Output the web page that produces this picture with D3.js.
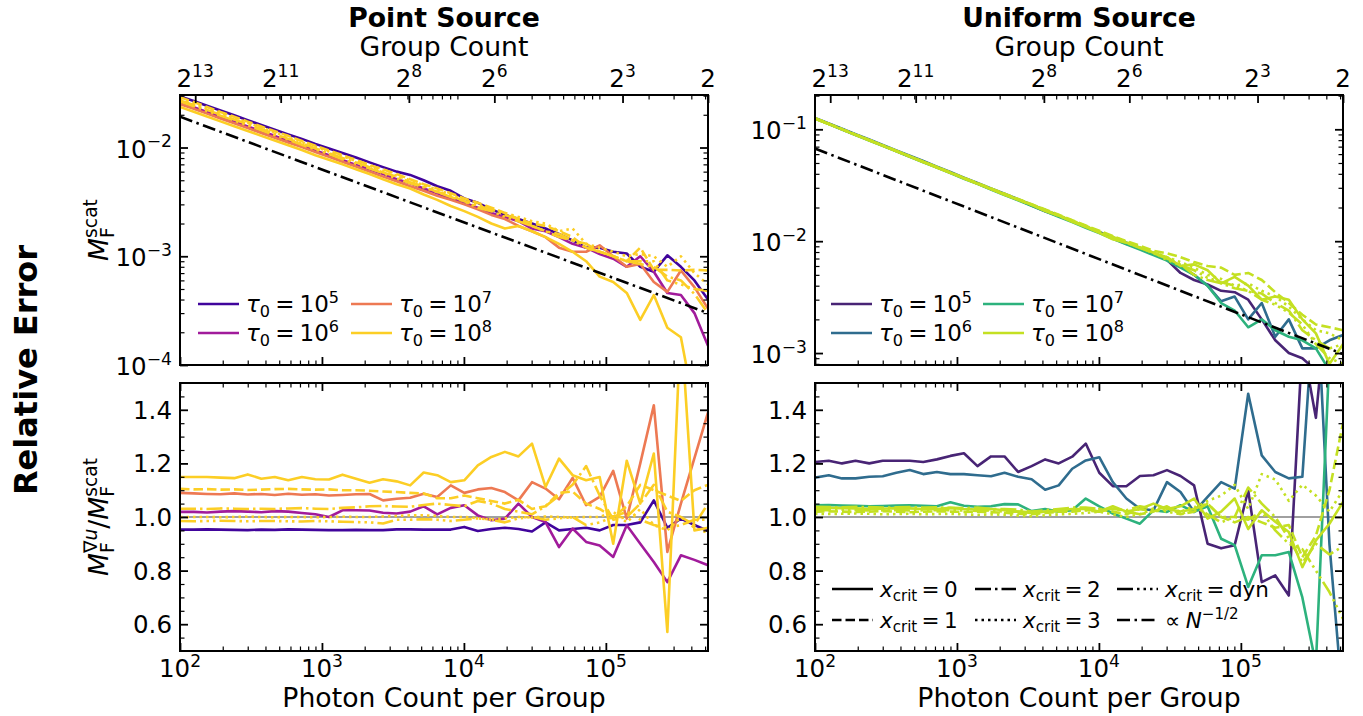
<!DOCTYPE html>
<html>
<head>
<meta charset="utf-8">
<script src="https://cdn.jsdelivr.net/npm/d3@7"></script>
<style>
  html, body { margin: 0; padding: 0; background: #fff; }
  svg { display: block; font-family: 'DejaVu Sans', sans-serif; }
</style>
</head>
<body>
<svg id="fig" width="1363" height="716"></svg>
<script>
// ── Data ────────────────────────────────────────────────────────────────────
const totalPhotons = 1048576;           // 2^20, so group count = total / N
const xDomain = [100, 524288];
const photonCount = [100, 125, 155, 193, 241, 300, 374, 465, 579, 722,
  899, 1120, 1395, 1737, 2164, 2695, 3357, 4181, 5208, 6486,
  8079, 10063, 12534, 15612, 19446, 24222, 30170, 37579, 46807, 58300,
  72616, 90448, 112660, 140323, 174780, 217700, 271157, 337740, 420675, 524288];

const xMajorTicks = [1e2, 1e3, 1e4, 1e5];
const groupTicks = [8192, 2048, 256, 64, 8, 2];
const groupExp = [13, 11, 8, 6, 3, 1];
const tauExp = ['5', '6', '7', '8'];
const xcritLabels = ['0', '1', '2', '3', 'dyn'];

// Point source, M_F^scat
const ptScatT5 = [0.0295, 0.0268, 0.0242, 0.0219, 0.0198, 0.0178, 0.0161, 0.0146, 0.0132, 0.0120,
  0.0108, 0.0098, 0.0089, 0.0081, 0.0073, 0.0066, 0.0060, 0.0056, 0.0050, 0.0044,
  0.0040, 0.0034, 0.0031, 0.0027, 0.0024, 0.0022, 0.0020, 0.0018, 0.0016, 0.0014,
  0.0012, 0.0012, 0.0011, 0.00106, 0.0008, 0.00072, 0.00102, 0.0008, 0.0006, 0.0004];
const ptScatT6 = [0.0260, 0.0235, 0.0212, 0.0191, 0.0173, 0.0156, 0.0141, 0.0128, 0.0115, 0.0104,
  0.0094, 0.0085, 0.0077, 0.0069, 0.0063, 0.0057, 0.0051, 0.0047, 0.0042, 0.0038,
  0.0034, 0.0031, 0.0028, 0.0025, 0.0023, 0.0021, 0.0018, 0.0017, 0.0015, 0.0013,
  0.0012, 0.00105, 0.00095, 0.0008, 0.0010, 0.00072, 0.00046, 0.00044, 0.0003, 0.00015];
const ptScatT7 = [0.0251, 0.0227, 0.0205, 0.0185, 0.0167, 0.0151, 0.0136, 0.0123, 0.0111, 0.0101,
  0.0091, 0.0082, 0.0074, 0.0067, 0.0060, 0.0054, 0.0049, 0.0044, 0.0040, 0.0036,
  0.0033, 0.0030, 0.0027, 0.0024, 0.0022, 0.0019, 0.0017, 0.0015, 0.0012, 0.0011,
  0.0011, 0.00126, 0.0010, 0.0008, 0.00085, 0.00058, 0.00047, 0.00074, 0.00052, 0.00033];
const ptScatT8x0 = [0.0236, 0.0213, 0.0193, 0.0174, 0.0157, 0.0142, 0.0128, 0.0116, 0.0105, 0.0095,
  0.0085, 0.0077, 0.0070, 0.0063, 0.0057, 0.0051, 0.0046, 0.0042, 0.0037, 0.0033,
  0.0029, 0.0026, 0.0023, 0.0020, 0.0018, 0.0019, 0.0017, 0.0015, 0.0013, 0.0011,
  0.0009, 0.00065, 0.00058, 0.00046, 0.00026, 0.00044, 0.00022, 0.00018, 0.00004, 0.00003];
const ptScatT8x1 = [0.0290, 0.0262, 0.0236, 0.0212, 0.0192, 0.0173, 0.0156, 0.0141, 0.0128, 0.0115,
  0.0104, 0.0094, 0.0085, 0.0077, 0.0069, 0.0063, 0.0057, 0.0051, 0.0046, 0.0042,
  0.0038, 0.0034, 0.0031, 0.0028, 0.0025, 0.0022, 0.0020, 0.0019, 0.0017, 0.0015,
  0.0012, 0.0011, 0.0010, 0.0009, 0.0012, 0.00075, 0.00075, 0.00074, 0.00075, 0.00074];
const ptScatT8x2 = [0.0271, 0.0246, 0.0222, 0.0200, 0.0181, 0.0164, 0.0148, 0.0133, 0.0120, 0.0109,
  0.0098, 0.0089, 0.0080, 0.0073, 0.0066, 0.0059, 0.0054, 0.0048, 0.0044, 0.0039,
  0.0036, 0.0032, 0.0029, 0.0027, 0.0024, 0.0022, 0.0019, 0.0017, 0.0016, 0.0014,
  0.0013, 0.0011, 0.0010, 0.0009, 0.00085, 0.0008, 0.00065, 0.0006, 0.00045, 0.0003];
const ptScatT8x3 = [0.0280, 0.0254, 0.0229, 0.0207, 0.0187, 0.0169, 0.0152, 0.0138, 0.0124, 0.0112,
  0.0101, 0.0092, 0.0083, 0.0075, 0.0068, 0.0061, 0.0055, 0.0050, 0.0045, 0.0041,
  0.0037, 0.0033, 0.0030, 0.0027, 0.0025, 0.0023, 0.0021, 0.0020, 0.0017, 0.0018,
  0.0013, 0.0012, 0.0011, 0.0010, 0.00105, 0.0010, 0.0008, 0.0010, 0.0007, 0.00055];
const ptScatT8dyn = [0.0266, 0.0240, 0.0217, 0.0196, 0.0177, 0.0160, 0.0144, 0.0130, 0.0118, 0.0106,
  0.0096, 0.0087, 0.0078, 0.0071, 0.0064, 0.0058, 0.0052, 0.0047, 0.0043, 0.0039,
  0.0035, 0.0032, 0.0028, 0.0026, 0.0023, 0.0021, 0.0019, 0.0017, 0.0015, 0.0014,
  0.0012, 0.0011, 0.0010, 0.0009, 0.0009, 0.0009, 0.0006, 0.00055, 0.0005, 0.00048];
const ptRefLine = [[100, 0.0192], [524288, 0.00030]];

// Point source, M_F^grad-u / M_F^scat
const ptRatioT5 = [0.953, 0.953, 0.954, 0.953, 0.952, 0.951, 0.953, 0.952, 0.954, 0.953,
  0.952, 0.951, 0.951, 0.952, 0.951, 0.951, 0.954, 0.954, 0.953, 0.953,
  0.953, 0.963, 0.948, 0.955, 0.960, 0.955, 0.946, 0.980, 0.950, 0.955,
  0.960, 0.950, 0.970, 0.970, 0.980, 1.062, 0.960, 0.994, 0.970, 0.948];
const ptRatioT6 = [1.019, 1.019, 1.017, 1.020, 1.022, 1.020, 1.018, 1.022, 1.020, 1.015,
  1.010, 1.000, 1.025, 1.025, 1.024, 1.016, 1.013, 1.020, 1.040, 1.010,
  1.034, 1.044, 1.006, 0.988, 0.994, 1.050, 1.000, 0.981, 0.888, 0.957,
  0.907, 0.894, 0.851, 0.969, 0.900, 0.832, 0.757, 0.857, 0.840, 0.820];
const ptRatioT7 = [1.090, 1.088, 1.086, 1.085, 1.088, 1.084, 1.086, 1.082, 1.087, 1.083,
  1.085, 1.080, 1.082, 1.085, 1.086, 1.062, 1.068, 1.072, 1.087, 1.075,
  1.118, 1.090, 1.103, 1.108, 1.093, 1.062, 1.130, 1.106, 1.066, 1.146,
  1.044, 1.075, 1.172, 0.994, 1.200, 1.417, 0.870, 1.050, 1.220, 1.390];
const ptRatioT8x0 = [1.149, 1.149, 1.149, 1.147, 1.145, 1.159, 1.143, 1.149, 1.137, 1.149,
  1.141, 1.140, 1.158, 1.143, 1.128, 1.141, 1.133, 1.118, 1.166, 1.156,
  1.130, 1.137, 1.193, 1.224, 1.243, 1.226, 1.274, 1.112, 1.218, 1.156,
  1.137, 1.149, 0.900, 1.210, 1.050, 1.237, 0.571, 1.730, 0.950, 0.960];
const ptRatioT8x1 = [1.105, 1.103, 1.104, 1.102, 1.103, 1.101, 1.102, 1.104, 1.105, 1.103,
  1.102, 1.103, 1.100, 1.100, 1.098, 1.095, 1.093, 1.090, 1.088, 1.070,
  1.070, 1.080, 1.070, 1.060, 1.050, 1.064, 1.030, 1.040, 1.090, 1.095,
  1.050, 1.030, 1.000, 1.040, 1.120, 1.100, 1.080, 1.060, 1.100, 1.120];
const ptRatioT8x2 = [1.031, 1.031, 1.030, 1.032, 1.031, 1.030, 1.031, 1.030, 1.032, 1.033,
  1.031, 1.030, 1.034, 1.036, 1.040, 1.041, 1.039, 1.038, 1.045, 1.050,
  1.045, 1.040, 1.060, 1.050, 1.030, 1.020, 1.010, 1.040, 1.080, 1.120,
  1.190, 1.080, 0.990, 1.000, 1.050, 1.120, 1.020, 1.000, 0.970, 1.050];
const ptRatioT8x3 = [1.000, 1.000, 1.000, 0.999, 1.000, 1.001, 1.000, 0.999, 1.000, 1.000,
  0.999, 1.000, 1.001, 1.000, 1.000, 1.002, 1.004, 1.006, 1.006, 1.004,
  1.000, 1.000, 0.995, 0.990, 0.995, 1.000, 0.998, 1.002, 1.000, 0.998,
  1.000, 1.000, 1.020, 0.980, 1.030, 0.970, 0.950, 1.000, 0.960, 0.940];
const ptRatioT8dyn = [0.985, 0.984, 0.985, 0.986, 0.985, 0.984, 0.985, 0.985, 0.984, 0.983,
  0.985, 0.984, 0.982, 0.981, 0.980, 0.976, 0.990, 0.990, 0.992, 0.990,
  0.985, 0.990, 0.995, 0.990, 0.980, 0.995, 1.000, 0.990, 0.995, 1.000,
  0.970, 0.980, 1.000, 1.020, 0.990, 0.970, 0.960, 0.970, 0.990, 0.990];

// Uniform source, M_F^scat
const unScatT5 = [0.125, 0.112, 0.100, 0.0895, 0.080, 0.0715, 0.064, 0.0572, 0.0512, 0.0458,
  0.041, 0.0366, 0.0328, 0.0292, 0.0262, 0.0235, 0.0208, 0.0185, 0.0168, 0.0151,
  0.0135, 0.0120, 0.0106, 0.0095, 0.0086, 0.0077, 0.0068, 0.0052, 0.0045, 0.0041,
  0.0036, 0.0035, 0.0030, 0.0020, 0.0013, 0.0010, 0.0009, 0.0007, 0.0005, 0.0004];
const unScatT6 = [0.126, 0.113, 0.101, 0.0905, 0.081, 0.0725, 0.0648, 0.058, 0.052, 0.0464,
  0.0415, 0.037, 0.0332, 0.0296, 0.0265, 0.0237, 0.0212, 0.019, 0.0169, 0.0151,
  0.0135, 0.0121, 0.0108, 0.0097, 0.0087, 0.0078, 0.0069, 0.0060, 0.0050, 0.0040,
  0.0029, 0.0032, 0.0020, 0.0028, 0.0014, 0.0020, 0.0011, 0.0011, 0.0013, 0.00145];
const unScatT7 = [0.1245, 0.1112, 0.0995, 0.089, 0.0795, 0.0712, 0.0636, 0.0568, 0.0508, 0.0455,
  0.0406, 0.0362, 0.0325, 0.029, 0.0258, 0.0232, 0.0207, 0.0185, 0.0165, 0.0148,
  0.0132, 0.0118, 0.0105, 0.0094, 0.0084, 0.0075, 0.0067, 0.0058, 0.0050, 0.0040,
  0.0028, 0.0024, 0.0017, 0.0020, 0.0016, 0.0014, 0.0013, 0.0011, 0.0007, 0.0006];
const unScatT8x0 = [0.125, 0.1115, 0.0998, 0.0892, 0.0798, 0.0714, 0.0638, 0.057, 0.051, 0.0456,
  0.0408, 0.0364, 0.0326, 0.0292, 0.026, 0.0234, 0.0211, 0.0186, 0.0169, 0.0149,
  0.0134, 0.0119, 0.0104, 0.0097, 0.0087, 0.0079, 0.0072, 0.0060, 0.0062, 0.0055,
  0.0042, 0.0048, 0.0040, 0.0030, 0.0032, 0.0030, 0.0020, 0.0015, 0.0008, 0.0012];
const unScatT8x1 = [0.1255, 0.112, 0.1003, 0.0897, 0.0802, 0.0718, 0.0642, 0.0575, 0.0514, 0.046,
  0.0412, 0.0368, 0.033, 0.0296, 0.0265, 0.0238, 0.0214, 0.0192, 0.0172, 0.0154,
  0.0138, 0.0124, 0.0111, 0.0100, 0.0091, 0.0082, 0.0078, 0.0072, 0.0065, 0.0060,
  0.0058, 0.0050, 0.0052, 0.0045, 0.0035, 0.0028, 0.0022, 0.0018, 0.0017, 0.0016];
const unScatT8x2 = [0.1248, 0.1116, 0.0999, 0.0893, 0.0799, 0.0715, 0.0639, 0.0571, 0.0511, 0.0457,
  0.0409, 0.0365, 0.0327, 0.0293, 0.0262, 0.0236, 0.0211, 0.0189, 0.0169, 0.0151,
  0.0136, 0.0121, 0.0108, 0.0097, 0.0088, 0.0078, 0.0070, 0.0062, 0.0050, 0.0045,
  0.0042, 0.0038, 0.0036, 0.0034, 0.0028, 0.0024, 0.0016, 0.0013, 0.0011, 0.0012];
const unScatT8x3 = [0.1252, 0.1119, 0.1001, 0.0896, 0.0801, 0.0717, 0.0641, 0.0573, 0.0513, 0.0459,
  0.041, 0.0367, 0.0329, 0.0294, 0.0264, 0.0237, 0.0213, 0.019, 0.0171, 0.0153,
  0.0137, 0.0122, 0.011, 0.0099, 0.0089, 0.008, 0.0072, 0.0065, 0.0058, 0.005,
  0.0046, 0.004, 0.0042, 0.0036, 0.0032, 0.0026, 0.002, 0.0016, 0.0015, 0.0013];
const unScatT8dyn = [0.1249, 0.1117, 0.1, 0.0894, 0.08, 0.0716, 0.064, 0.0572, 0.0512, 0.0458,
  0.041, 0.0366, 0.0328, 0.0293, 0.0263, 0.0236, 0.0212, 0.0189, 0.017, 0.0152,
  0.0136, 0.0121, 0.0109, 0.0098, 0.0088, 0.0079, 0.0068, 0.0061, 0.0055, 0.0047,
  0.0043, 0.004, 0.0036, 0.003, 0.0027, 0.0023, 0.0018, 0.0012, 0.0009, 0.0008];
const unRefLine = [[100, 0.0673], [524288, 0.00098]];

// Uniform source, ratio
const unRatioT5 = [1.205, 1.210, 1.200, 1.210, 1.200, 1.210, 1.210, 1.210, 1.205, 1.215,
  1.228, 1.238, 1.190, 1.226, 1.226, 1.168, 1.190, 1.215, 1.200, 1.225,
  1.274, 1.165, 1.115, 1.115, 1.153, 1.156, 1.175, 1.153, 1.118, 0.900,
  0.883, 0.895, 1.100, 0.757, 0.782, 0.707, 1.650, 1.370, 1.900, 1.900];
const unRatioT6 = [1.147, 1.156, 1.144, 1.144, 1.150, 1.152, 1.165, 1.175, 1.160, 1.168,
  1.160, 1.160, 1.156, 1.152, 1.165, 1.150, 1.141, 1.102, 1.118, 1.180,
  1.211, 1.223, 1.130, 1.069, 1.031, 1.025, 1.130, 1.093, 1.019, 1.075,
  1.130, 1.106, 1.460, 1.230, 1.168, 1.144, 1.150, 1.900, 0.900, 0.300];
const unRatioT7 = [1.044, 1.045, 1.043, 1.042, 1.040, 1.041, 1.043, 1.044, 1.042, 1.040,
  1.055, 1.042, 1.038, 1.040, 1.048, 1.047, 1.022, 1.030, 1.020, 1.025,
  1.069, 1.040, 1.013, 0.994, 0.975, 1.025, 1.019, 1.044, 1.019, 1.040,
  0.919, 0.895, 0.739, 0.857, 0.857, 0.869, 0.700, 0.450, 1.600, 1.900];
const unRatioT8x0 = [1.035, 1.034, 1.033, 1.032, 1.030, 1.031, 1.033, 1.032, 1.030, 1.030,
  1.034, 1.030, 1.028, 1.030, 1.025, 1.020, 1.015, 1.020, 1.025, 1.030,
  1.030, 1.020, 1.040, 1.020, 1.030, 1.050, 1.030, 1.040, 1.069, 0.994,
  1.020, 1.069, 0.955, 1.025, 0.982, 0.944, 0.813, 0.913, 0.975, 1.056];
const unRatioT8x1 = [1.020, 1.021, 1.020, 1.019, 1.020, 1.022, 1.020, 1.018, 1.020, 1.021,
  1.020, 1.019, 1.020, 1.018, 1.016, 1.012, 1.010, 1.015, 1.020, 1.020,
  1.025, 1.030, 1.020, 1.010, 1.030, 1.020, 1.040, 1.010, 1.020, 1.050,
  1.000, 0.980, 1.000, 0.980, 0.960, 0.970, 0.850, 0.930, 1.100, 1.350];
const unRatioT8x2 = [1.038, 1.037, 1.036, 1.038, 1.037, 1.035, 1.036, 1.037, 1.035, 1.036,
  1.034, 1.033, 1.035, 1.030, 1.030, 1.028, 1.020, 1.025, 1.030, 1.035,
  1.035, 1.030, 1.030, 1.025, 1.040, 1.030, 1.035, 1.020, 1.030, 1.050,
  1.000, 1.000, 1.110, 1.050, 1.000, 0.920, 0.830, 0.900, 0.860, 0.890];
const unRatioT8x3 = [1.012, 1.011, 1.012, 1.013, 1.012, 1.010, 1.011, 1.012, 1.010, 1.011,
  1.012, 1.010, 1.008, 1.010, 1.008, 1.005, 1.003, 1.006, 1.010, 1.012,
  1.015, 1.020, 1.010, 1.000, 1.010, 1.030, 1.020, 1.010, 1.030, 1.060,
  1.080, 1.120, 1.030, 1.160, 1.140, 1.060, 1.120, 1.080, 1.020, 1.100];
const unRatioT8dyn = [1.026, 1.025, 1.027, 1.025, 1.024, 1.025, 1.026, 1.024, 1.025, 1.026,
  1.025, 1.024, 1.023, 1.025, 1.020, 1.020, 1.018, 1.020, 1.022, 1.025,
  1.025, 1.020, 1.030, 1.020, 1.010, 1.020, 1.030, 1.020, 1.040, 1.010,
  0.980, 1.000, 0.990, 1.020, 0.950, 0.900, 0.880, 0.800, 0.720, 0.620];

// ── Styles ──────────────────────────────────────────────────────────────────
const plasmaCols = ['#40049c', '#a11b9b', '#ed7953', '#fcce25'];
const viridisCols = ['#482475', '#2f6c8e', '#2db27d', '#c4e022'];
const DASH = { solid: null, dashed: '9.5 4', dashdot: '16 4 2.5 4', dotted: '2.5 4',
               dashdotdot: '16 4 2.5 4 2.5 4 2.5 4', ref: '13 4.5 2.5 4.5' };
const seriesDash = [DASH.solid, DASH.solid, DASH.solid, DASH.solid,
                    DASH.dashed, DASH.dashdot, DASH.dotted, DASH.dashdotdot];
const LW = 2.6;
const FT = 24.5, FL = 26.7, FLEG = 23;

const svg = d3.select('#fig');
const defs = svg.append('defs');

// one <text> with tspans for sub/superscripts, laid out piece by piece
function richText(parent, x, y, segs, size, anchor = 'start', weight = null) {
  const g = parent.append('g');
  const txt = g.append('text').attr('font-weight', weight).attr('fill', '#000');
  let base = 0, sub = 0, sup = 0, end = 0;
  for (const s of segs) {
    if (s.gap) { end = base = sub = sup = end + s.gap * size; continue; }
    const px = s.sub ? sub : s.sup ? sup : end;
    const ts = txt.append('tspan')
      .attr('x', px)
      .attr('y', s.sub ? size * 0.22 : s.sup ? -size * 0.42 : 0)
      .attr('font-size', (s.sub || s.sup) ? size * 0.7 : size)
      .attr('font-style', s.it ? 'italic' : null)
      .text(s.t);
    const w = ts.node().getComputedTextLength();
    if (s.sub) sub = px + w;
    else if (s.sup) sup = px + w;
    else base = sub = sup = px + w;
    end = Math.max(base, sub, sup);
  }
  const off = anchor === 'middle' ? -end / 2 : anchor === 'end' ? -end : 0;
  g.attr('transform', `translate(${x + off},${y})`);
  return g;
}

function logMinor(lo, hi) {
  const out = [];
  for (let e = Math.floor(Math.log10(lo)); e <= Math.ceil(Math.log10(hi)); e++)
    for (let m = 2; m <= 9; m++) {
      const v = m * Math.pow(10, e);
      if (v > lo * 1.0001 && v < hi * 0.9999) out.push(v);
    }
  return out;
}

function tickRow(axisFn, scale, values, len, width, transform) {
  svg.append('g').attr('transform', transform)
    .call(axisFn(scale).tickValues(values).tickSize(-len).tickFormat(''))
    .call(s => {
      s.select('.domain').remove();
      s.selectAll('text').remove();
      s.selectAll('line').attr('stroke', '#000').attr('stroke-width', width);
    });
}

function drawPanel(p) {
  const x = d3.scaleLog().domain(xDomain).range([p.x0, p.x1]);
  const y = p.y.range([p.y1, p.y0]);

  const clipId = 'clip-' + p.id;
  defs.append('clipPath').attr('id', clipId).append('rect')
    .attr('x', p.x0).attr('y', p.y0).attr('width', p.x1 - p.x0).attr('height', p.y1 - p.y0);
  const plot = svg.append('g').attr('clip-path', `url(#${clipId})`);

  if (p.unity) {
    plot.append('line')
      .attr('x1', p.x0).attr('x2', p.x1).attr('y1', y(1)).attr('y2', y(1))
      .attr('stroke', '#808080').attr('stroke-width', 1.6);
  }

  const line = d3.line().x((d, i) => x(photonCount[i])).y(d => y(d));
  p.series.forEach((vals, k) => {
    plot.append('path').datum(vals)
      .attr('d', line)
      .attr('fill', 'none')
      .attr('stroke', p.colors[k])
      .attr('stroke-width', LW)
      .attr('stroke-linejoin', 'round')
      .attr('stroke-dasharray', seriesDash[k]);
  });

  if (p.ref) {
    plot.append('path').datum(p.ref)
      .attr('d', d3.line().x(d => x(d[0])).y(d => y(d[1])))
      .attr('fill', 'none').attr('stroke', '#000').attr('stroke-width', LW)
      .attr('stroke-dasharray', DASH.ref);
  }

  // ticks, all pointing inwards
  const xMinor = logMinor(xDomain[0], xDomain[1]);
  tickRow(d3.axisBottom, x, xMajorTicks, 8, 1.8, `translate(0,${p.y1})`);
  tickRow(d3.axisBottom, x, xMinor, 4.5, 1.2, `translate(0,${p.y1})`);
  if (p.groupAxis) {
    tickRow(d3.axisTop, x, groupTicks.map(g => totalPhotons / g), 8, 1.8, `translate(0,${p.y0})`);
    tickRow(d3.axisTop, x, xMinor, 4.5, 1.2, `translate(0,${p.y0})`);
  } else {
    tickRow(d3.axisTop, x, xMajorTicks, 8, 1.8, `translate(0,${p.y0})`);
    tickRow(d3.axisTop, x, xMinor, 4.5, 1.2, `translate(0,${p.y0})`);
  }
  tickRow(d3.axisLeft, y, p.yMajor, 8, 1.8, `translate(${p.x0},0)`);
  tickRow(d3.axisLeft, y, p.yMinor, 4.5, 1.2, `translate(${p.x0},0)`);
  tickRow(d3.axisRight, y, p.yMajor, 8, 1.8, `translate(${p.x1},0)`);
  tickRow(d3.axisRight, y, p.yMinor, 4.5, 1.2, `translate(${p.x1},0)`);

  svg.append('rect')
    .attr('x', p.x0).attr('y', p.y0).attr('width', p.x1 - p.x0).attr('height', p.y1 - p.y0)
    .attr('fill', 'none').attr('stroke', '#000').attr('stroke-width', 2);

  // y tick labels
  p.yMajor.forEach(v => {
    if (p.logY) {
      const e = Math.round(Math.log10(v));
      richText(svg, p.x0 - 8, y(v) + 10, [{ t: '10' }, { t: '\u2212' + (-e), sup: 1 }], FT, 'end');
    } else {
      richText(svg, p.x0 - 8, y(v) + 9, [{ t: d3.format('.1f')(v) }], FT, 'end');
    }
  });

  if (p.bottomLabels) {
    xMajorTicks.forEach(v => {
      richText(svg, x(v), 677, [{ t: '10' }, { t: String(Math.round(Math.log10(v))), sup: 1 }], FT, 'middle');
    });
    richText(svg, (p.x0 + p.x1) / 2, 707, [{ t: 'Photon Count per Group' }], FL, 'middle');
  }
  if (p.groupAxis) {
    groupTicks.forEach((g, i) => {
      const segs = groupExp[i] === 1 ? [{ t: '2' }] : [{ t: '2' }, { t: String(groupExp[i]), sup: 1 }];
      richText(svg, x(totalPhotons / g), 87, segs, FT, 'middle');
    });
    richText(svg, (p.x0 + p.x1) / 2, 56, [{ t: 'Group Count' }], FL, 'middle');
    richText(svg, (p.x0 + p.x1) / 2, 27, [{ t: p.title }], FL, 'middle', 'bold');
  }
}

// ── Panels ──────────────────────────────────────────────────────────────────
const ratioMajor = [0.6, 0.8, 1.0, 1.2, 1.4];
const ratioMinor = d3.range(11, 30).filter(k => k % 4 !== 0).map(k => k * 0.05);

drawPanel({
  id: 'ps', x0: 180, x1: 708, y0: 95, y1: 365, title: 'Point Source',
  y: d3.scaleLog().domain([1e-4, 0.0304]), logY: true,
  yMajor: [1e-4, 1e-3, 1e-2], yMinor: logMinor(1e-4, 0.0304),
  series: [ptScatT5, ptScatT6, ptScatT7, ptScatT8x0, ptScatT8x1, ptScatT8x2, ptScatT8x3, ptScatT8dyn],
  colors: [...plasmaCols, plasmaCols[3], plasmaCols[3], plasmaCols[3], plasmaCols[3]],
  ref: ptRefLine, groupAxis: true
});
drawPanel({
  id: 'pr', x0: 180, x1: 708, y0: 383, y1: 651,
  y: d3.scaleLinear().domain([0.5, 1.5]), logY: false,
  yMajor: ratioMajor, yMinor: ratioMinor, unity: true,
  series: [ptRatioT5, ptRatioT6, ptRatioT7, ptRatioT8x0, ptRatioT8x1, ptRatioT8x2, ptRatioT8x3, ptRatioT8dyn],
  colors: [...plasmaCols, plasmaCols[3], plasmaCols[3], plasmaCols[3], plasmaCols[3]],
  bottomLabels: true
});
drawPanel({
  id: 'us', x0: 815, x1: 1343, y0: 95, y1: 365, title: 'Uniform Source',
  y: d3.scaleLog().domain([7.82e-4, 0.2026]), logY: true,
  yMajor: [1e-3, 1e-2, 1e-1], yMinor: logMinor(7.82e-4, 0.2026),
  series: [unScatT5, unScatT6, unScatT7, unScatT8x0, unScatT8x1, unScatT8x2, unScatT8x3, unScatT8dyn],
  colors: [...viridisCols, viridisCols[3], viridisCols[3], viridisCols[3], viridisCols[3]],
  ref: unRefLine, groupAxis: true
});
drawPanel({
  id: 'ur', x0: 815, x1: 1343, y0: 383, y1: 651,
  y: d3.scaleLinear().domain([0.5, 1.5]), logY: false,
  yMajor: ratioMajor, yMinor: ratioMinor, unity: true,
  series: [unRatioT5, unRatioT6, unRatioT7, unRatioT8x0, unRatioT8x1, unRatioT8x2, unRatioT8x3, unRatioT8dyn],
  colors: [...viridisCols, viridisCols[3], viridisCols[3], viridisCols[3], viridisCols[3]],
  bottomLabels: true
});

// ── Legends ─────────────────────────────────────────────────────────────────
function legendEntry(hx, hy, color, dash, segs, size) {
  svg.append('line')
    .attr('x1', hx).attr('x2', hx + 41).attr('y1', hy).attr('y2', hy)
    .attr('stroke', color).attr('stroke-width', LW).attr('stroke-dasharray', dash);
  richText(svg, hx + 48, hy + size * 0.36, segs, size, 'start');
}
const tauSegs = e => [{ t: '\u03c4', it: 1 }, { t: '0', sub: 1 }, { gap: 0.22 }, { t: '=' },
                      { gap: 0.22 }, { t: '10' }, { t: e, sup: 1 }];
const tauPos = [[0, 0], [0, 1], [1, 0], [1, 1]];
[[198, 351, plasmaCols], [831, 983, viridisCols]].forEach(([c1, c2, cols]) => {
  tauExp.forEach((e, k) => {
    const [col, row] = tauPos[k];
    legendEntry(col ? c2 : c1, 304 + row * 29, cols[k], null, tauSegs(e), FLEG);
  });
});

const xcritSegs = v => [{ t: 'x', it: 1 }, { t: 'crit', sub: 1 }, { gap: 0.2 }, { t: '=' },
                        { gap: 0.2 }, { t: v }];
const LS_ROW1 = 589, LS_ROW2 = 620;
const lsLegend = [
  [832, LS_ROW1, DASH.solid, xcritSegs(xcritLabels[0])],
  [832, LS_ROW2, DASH.dashed, xcritSegs(xcritLabels[1])],
  [975, LS_ROW1, DASH.dashdot, xcritSegs(xcritLabels[2])],
  [975, LS_ROW2, DASH.dotted, xcritSegs(xcritLabels[3])],
  [1117, LS_ROW1, DASH.dashdotdot, xcritSegs(xcritLabels[4])],
  [1117, LS_ROW2, DASH.ref, [{ t: '\u221d' }, { gap: 0.25 }, { t: 'N', it: 1 }, { t: '\u22121/2', sup: 1 }]]
];
lsLegend.forEach(([hx, hy, dash, segs]) => legendEntry(hx, hy, '#000', dash, segs, 21.5));

// ── Figure labels ───────────────────────────────────────────────────────────
const yl1 = svg.append('g').attr('transform', 'translate(108,230) rotate(-90)');
richText(yl1, 0, 0, [{ t: 'M', it: 1 }, { t: 'F', sub: 1 }, { t: 'scat', sup: 1 }], FL, 'middle');
const yl2 = svg.append('g').attr('transform', 'translate(108,517) rotate(-90)');
richText(yl2, 0, 0, [{ t: 'M', it: 1 }, { t: 'F', sub: 1 }, { t: '\u2207', sup: 1 }, { t: 'u', sup: 1, it: 1 },
                     { t: '/' }, { t: 'M', it: 1 }, { t: 'F', sub: 1 }, { t: 'scat', sup: 1 }], FL, 'middle');
const yl0 = svg.append('g').attr('transform', 'translate(37,370) rotate(-90)');
richText(yl0, 0, 0, [{ t: 'Relative Error' }], 32, 'middle', 'bold');
</script>
</body>
</html>
